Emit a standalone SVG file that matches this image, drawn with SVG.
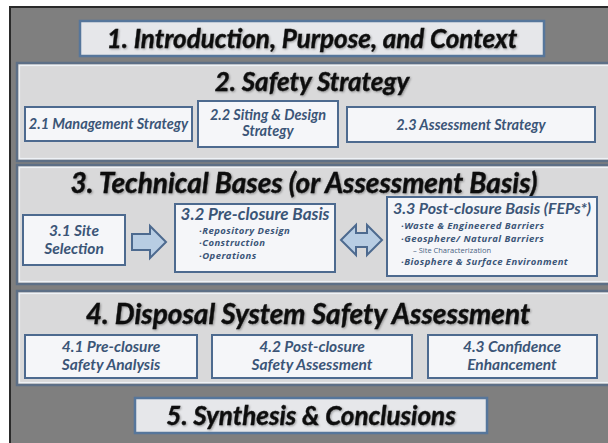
<svg xmlns="http://www.w3.org/2000/svg" width="608" height="443" viewBox="0 0 608 443">
<defs>
<filter id="sh" x="-5%" y="-20%" width="110%" height="150%">
<feDropShadow dx="1" dy="1" stdDeviation="1" flood-color="#000" flood-opacity="0.35"/>
</filter>
</defs>
<style>
text{font-family:Lato,"Open Sans","Liberation Sans",sans-serif;font-weight:bold;font-style:italic;text-anchor:middle}
.head{fill:#111;font-size:26px;stroke:#111;stroke-width:0.4;filter:url(#sh)}
.sub{fill:#3b5577;font-size:14.5px}
.t3{fill:#3b5577;font-size:15.5px}
.bul{fill:#3b5577;font-family:"Open Sans",Lato,sans-serif;font-size:9.5px;text-anchor:start;letter-spacing:0.45px}
.tiny{fill:#4a6282;font-family:"Open Sans",Lato,sans-serif;font-size:7.5px;font-weight:normal;font-style:normal;text-anchor:start}
.panel{fill:#d9d9da;stroke:#5d6f86;stroke-width:2.5}
.pin{fill:none;stroke:#eef2f6;stroke-width:1.2}
.hbox{fill:#e6e7ea;stroke:#56769b;stroke-width:2.5}
.box{fill:#f5f6f9;stroke:#4d6a8f;stroke-width:2}
.arrow{fill:#b8cde3;stroke:#4d6a8f;stroke-width:2;stroke-linejoin:miter}
</style>
<rect x="0" y="0" width="608" height="443" fill="#ffffff"/>
<rect x="10" y="7" width="600" height="440" fill="#7f7f7f" stroke="#2a2a2a" stroke-width="2"/>

<g id="n1">
<rect class="hbox" x="80" y="21" width="464" height="35"/>
<text class="head" x="312" y="48">1.  Introduction, Purpose, and Context</text>
</g>

<g id="n2">
<rect class="panel" x="17" y="63" width="593" height="98"/>
<rect class="pin" x="19.5" y="65.5" width="590" height="93"/>
<text class="head" x="312" y="91">2.  Safety Strategy</text>
</g>
<g id="n2_1"><rect class="box" x="25" y="107" width="167" height="34"/><text class="sub" x="108.5" y="129">2.1 Management  Strategy</text></g>
<g id="n2_2"><rect class="box" x="198" y="101" width="140" height="46"/><text class="sub" x="268" y="120">2.2 Siting &amp; Design</text><text class="sub" x="268" y="136">Strategy</text></g>
<g id="n2_3"><rect class="box" x="347" y="107" width="248" height="35"/><text class="sub" x="471" y="129.5">2.3 Assessment  Strategy</text></g>

<g id="n3">
<rect class="panel" x="17" y="165" width="593" height="119"/>
<rect class="pin" x="19.5" y="167.5" width="590" height="114"/>
<text class="head" x="304" y="193" style="font-size:28px">3.  Technical Bases (or Assessment Basis)</text>
</g>
<g id="n3_1"><rect class="box" x="23" y="215" width="102" height="50"/><text class="t3" x="74" y="236">3.1  Site</text><text class="t3" x="74" y="254">Selection</text></g>
<g id="n3_2"><rect class="box" x="175" y="204" width="160" height="68"/>
<text class="t3" x="255" y="220" style="font-size:17px">3.2 Pre-closure Basis</text>
<text class="bul" x="199" y="233.5">·Repository Design</text>
<text class="bul" x="199" y="246">·Construction</text>
<text class="bul" x="199" y="258.5">·Operations</text>
</g>
<g id="n3_3"><rect class="box" x="387" y="197" width="210" height="79"/>
<text class="t3" x="492" y="214" style="font-size:16px">3.3 Post-closure  Basis (FEPs*)</text>
<text class="bul" x="401" y="229">·Waste &amp; Engineered Barriers</text>
<text class="bul" x="401" y="241.5">·Geosphere/ Natural Barriers</text>
<text class="tiny" x="413" y="252.5">–  Site Characterization</text>
<text class="bul" x="401" y="265">·Biosphere &amp; Surface Environment</text>
</g>

<g id="n4">
<rect class="panel" x="17" y="291" width="593" height="94"/>
<rect class="pin" x="19.5" y="293.5" width="590" height="89"/>
<text class="head" x="308" y="324" style="font-size:28px">4. Disposal System Safety Assessment</text>
</g>
<g id="n4_1"><rect class="box" x="25" y="335" width="172" height="43"/><text class="t3" x="111" y="352">4.1 Pre-closure</text><text class="t3" x="111" y="370">Safety Analysis</text></g>
<g id="n4_2"><rect class="box" x="212" y="335" width="200" height="43"/><text class="t3" x="312" y="352">4.2 Post-closure</text><text class="t3" x="312" y="370">Safety Assessment</text></g>
<g id="n4_3"><rect class="box" x="428" y="335" width="169" height="43"/><text class="t3" x="512" y="352">4.3 Confidence</text><text class="t3" x="512" y="370">Enhancement</text></g>

<g id="n5">
<rect class="hbox" x="135" y="398" width="352" height="35"/>
<text class="head" x="311" y="425">5. Synthesis &amp; Conclusions</text>
</g>

<g id="connectors">
<path class="arrow" d="M132,234 H150 V226 L166,242 L150,258 V250 H132 Z"/>
<path class="arrow" d="M341,240 L356,225 V233 H367 V225 L382,240 L367,255 V247 H356 V255 Z"/>
</g>
</svg>
